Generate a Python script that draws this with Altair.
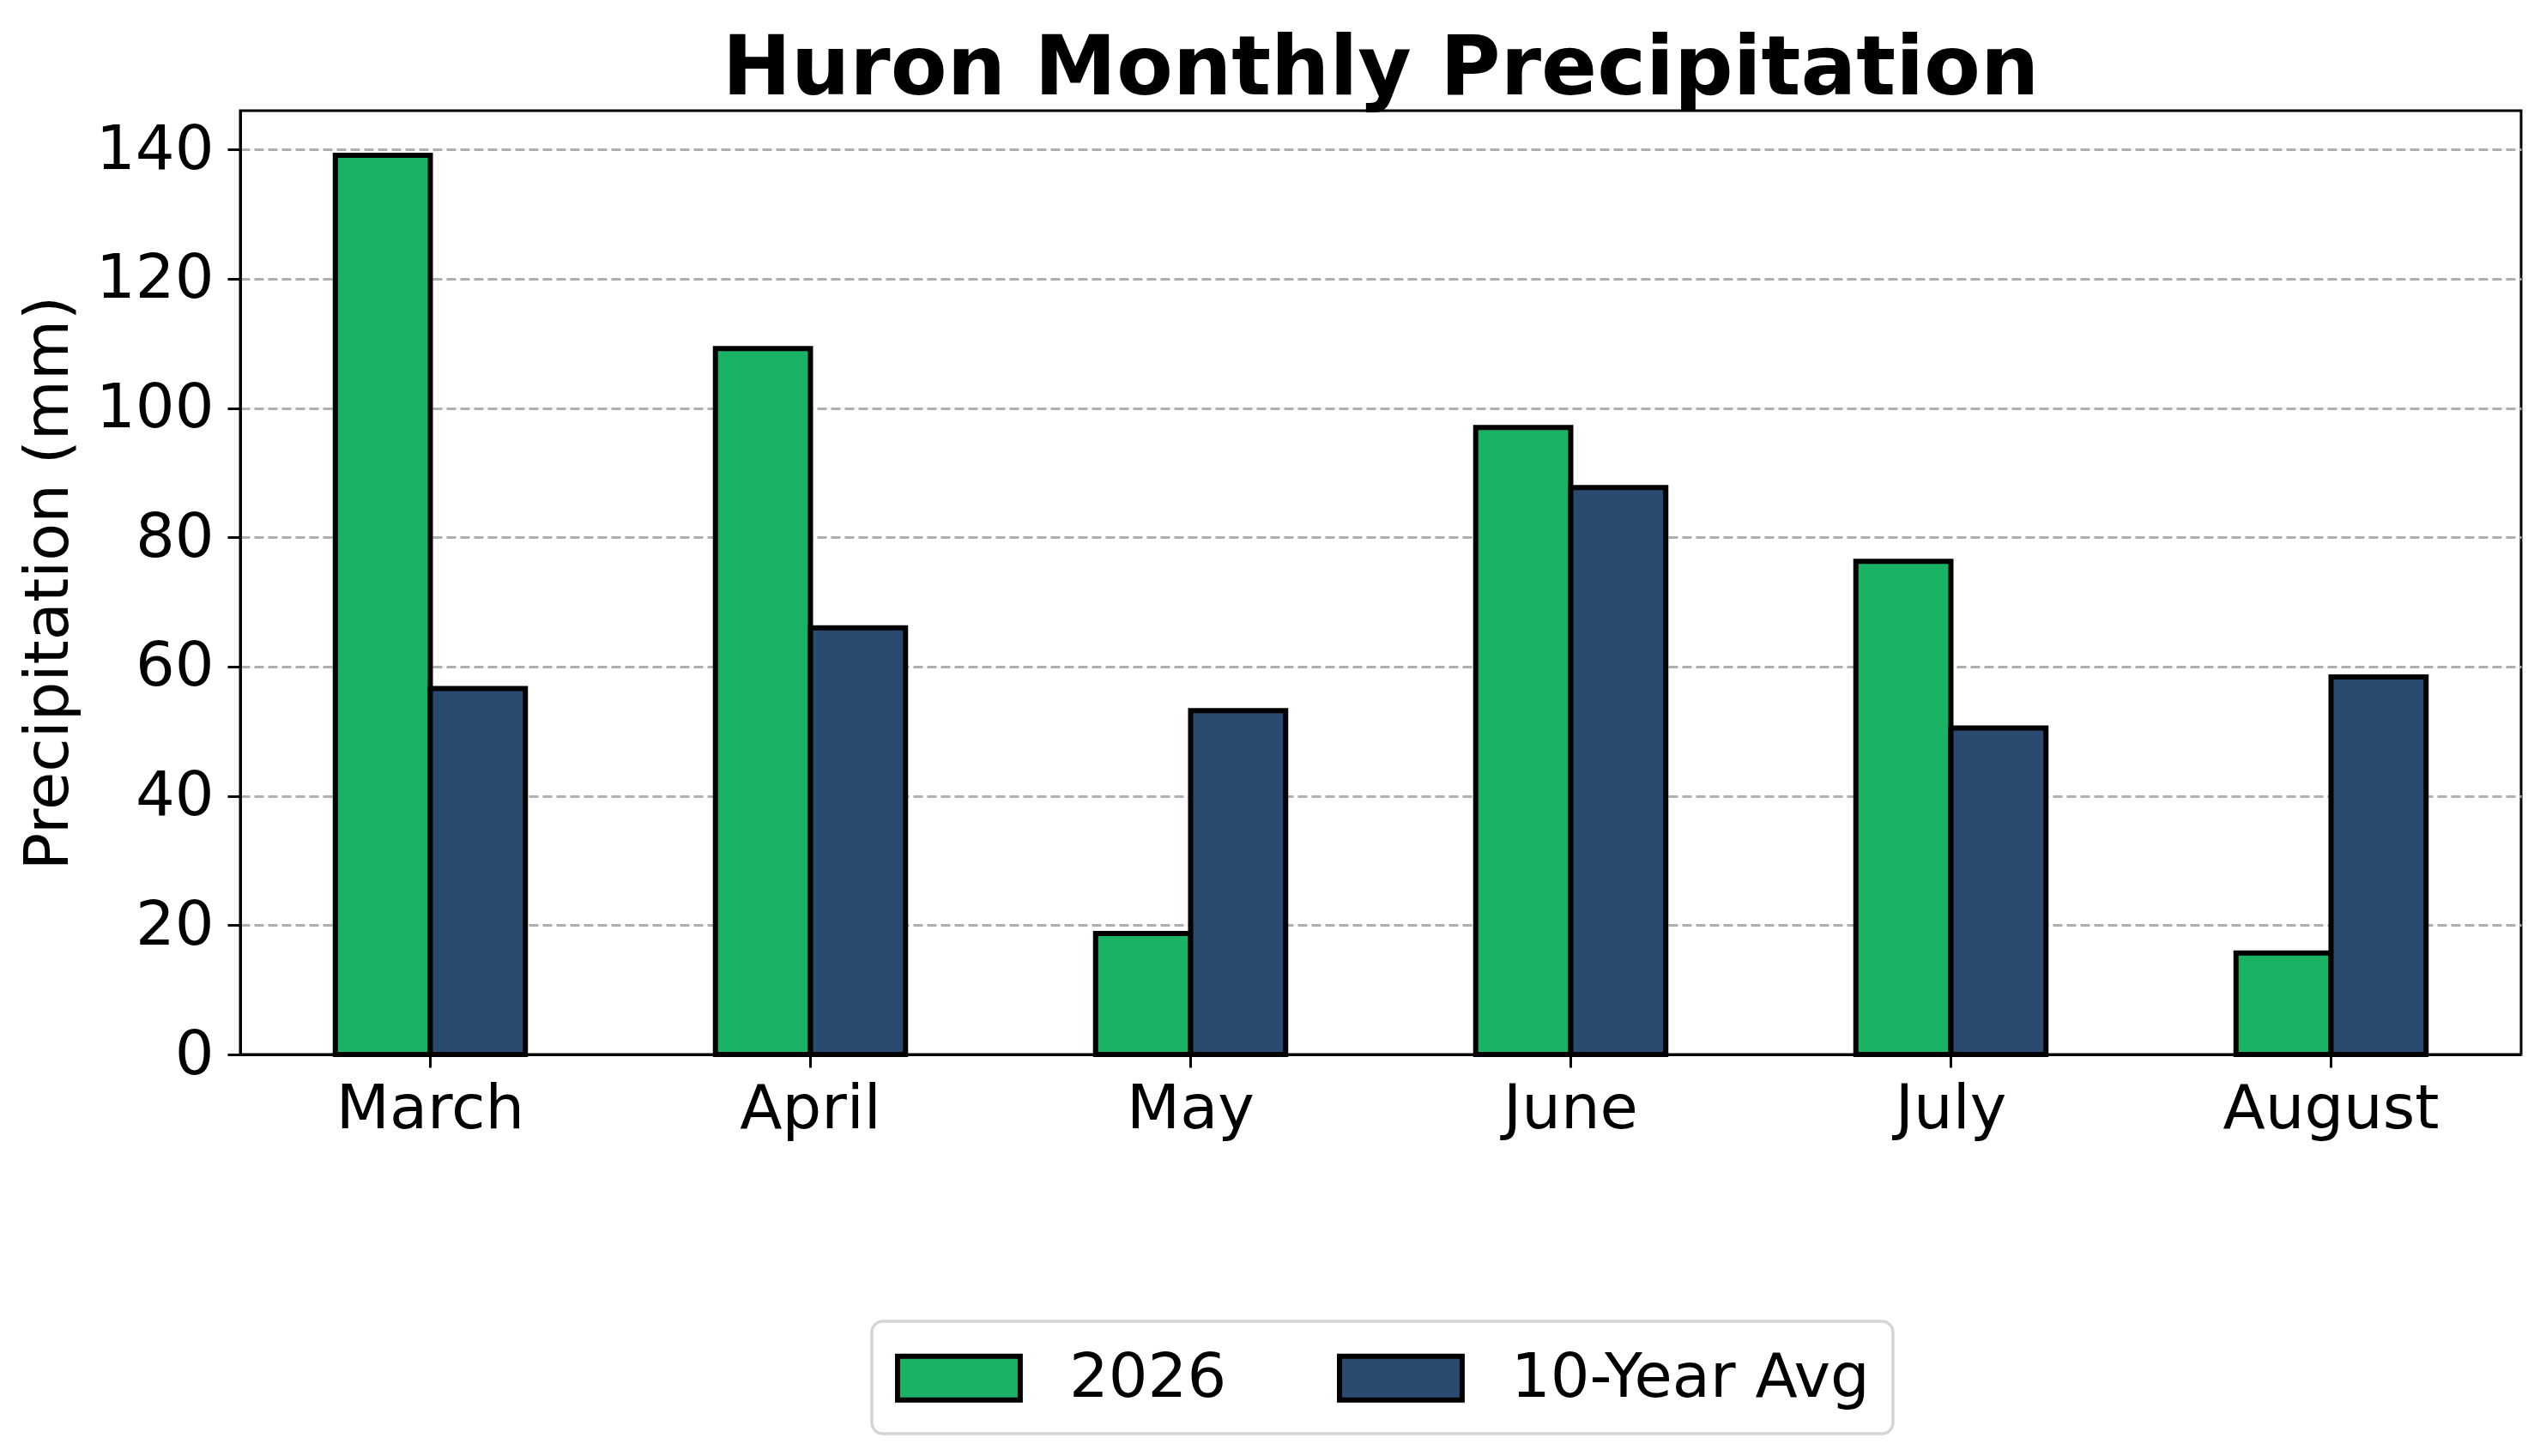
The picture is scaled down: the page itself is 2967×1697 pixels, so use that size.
import altair as alt
import pandas as pd

months = ["March", "April", "May", "June", "July", "August"]
series_names = ["2026", "10-Year Avg"]
values_2026 = [139.1, 109.2, 18.7, 97.0, 76.3, 15.7]
values_avg = [56.6, 66.0, 53.2, 87.7, 50.5, 58.4]
colors = ["#1ab265", "#2b4a6f"]
y_ticks = [0, 20, 40, 60, 80, 100, 120, 140]

rows = []
for m, a, b in zip(months, values_2026, values_avg):
    rows.append({"Month": m, "Series": series_names[0], "Value": a})
    rows.append({"Month": m, "Series": series_names[1], "Value": b})
df = pd.DataFrame(rows)

FONT = "DejaVu Sans"

chart = alt.Chart(df).mark_bar(
    stroke="black", strokeWidth=6, opacity=1
).encode(
    x=alt.X(
        "Month:N",
        sort=months,
        title=None,
        scale=alt.Scale(paddingInner=0.5, paddingOuter=0.25),
        axis=alt.Axis(
            labelAngle=0, labelFontSize=72, labelFont=FONT, labelColor="black",
            labelPadding=13, labelLimit=1000, tickSize=15, tickWidth=3,
            tickColor="black", domain=True, domainColor="black", domainWidth=3,
            grid=False,
        ),
    ),
    xOffset=alt.XOffset(
        "Series:N", sort=series_names,
        scale=alt.Scale(paddingInner=0, paddingOuter=0),
    ),
    y=alt.Y(
        "Value:Q",
        title="Precipitation (mm)",
        scale=alt.Scale(domain=[0, 146], nice=False),
        axis=alt.Axis(
            values=y_ticks, labelFontSize=72, labelFont=FONT, labelColor="black",
            labelPadding=16, tickSize=15, tickWidth=3, tickColor="black",
            domain=True, domainColor="black", domainWidth=3,
            grid=True, gridColor="#b0b0b0", gridDash=[11, 5],
            gridWidth=3, titleFontSize=72, titleFont=FONT,
            titleFontWeight="normal", titleColor="black", titlePadding=18,
        ),
    ),
    color=alt.Color(
        "Series:N",
        sort=series_names,
        title=None,
        scale=alt.Scale(domain=series_names, range=colors),
        legend=alt.Legend(
            orient="none", legendX=736, legendY=1411, direction="horizontal",
            labelFontSize=72, labelFont=FONT, labelColor="black", labelLimit=1000,
            labelOffset=125, columnPadding=119, padding=27,
            symbolType="M-1,-0.71H2.97V0.71H-1Z", symbolSize=5184,
            symbolStrokeColor="black", symbolStrokeWidth=6, symbolOpacity=1,
            fillColor="white", strokeColor="#d5d5d5",
            cornerRadius=13,
        ),
    ),
).properties(
    width=2658,
    height=1100,
    title=alt.TitleParams(
        "Huron Monthly Precipitation", fontSize=96, fontWeight="bold",
        font=FONT, color="black", anchor="middle", baseline="alphabetic",
        offset=26, dy=103,
    ),
    autosize=alt.AutoSizeParams(type="none"),
    padding={"left": 272, "top": 121, "right": 21, "bottom": 445},
).configure(
    background="white"
).configure_view(
    stroke="black", strokeWidth=3
).configure_legend(
    strokeWidth=3.5
)

chart.save("out.html", embed_options={"renderer": "svg", "actions": False})
